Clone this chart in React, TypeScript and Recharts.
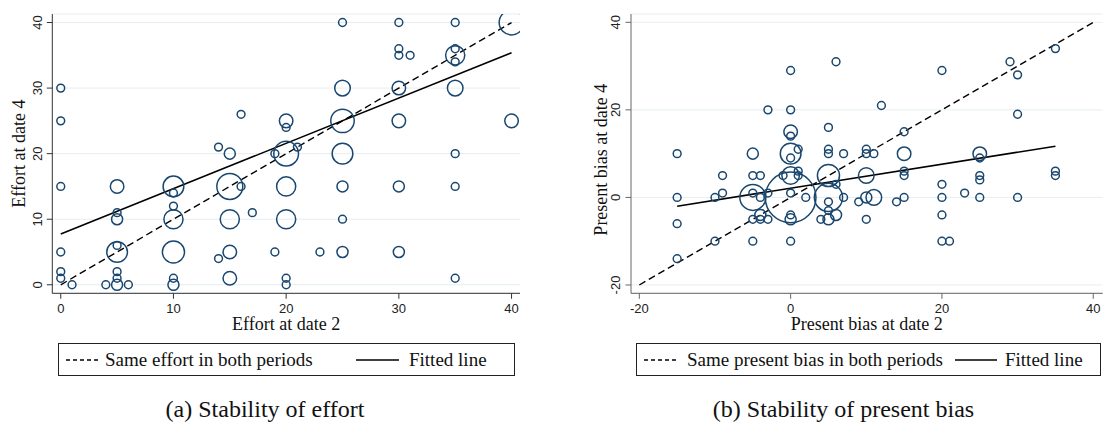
import React from "react";
import { CartesianGrid, ReferenceLine, Scatter, ScatterChart, XAxis, YAxis, ZAxis } from "recharts";

// (a) effort: one entry per distinct (date 2, date 4) pair, count sets the marker area
const effortAt2 = [
  0, 0, 0, 0, 0, 0, 1, 4, 5, 6, 5, 5, 5, 5, 5, 5, 5,
  10, 10, 10, 10, 10, 10, 10,
  14, 14, 15, 15, 15, 15, 15, 16, 16, 17,
  19, 19, 20, 20, 20, 20, 20, 20, 20, 21, 23,
  25, 25, 25, 25, 25, 25, 25,
  30, 30, 30, 30, 30, 30, 30, 31,
  35, 35, 35, 35, 35, 35, 35, 35,
  40, 40,
];
const effortAt4 = [
  30, 25, 15, 5, 2, 1, 0, 0, 0, 0, 1, 2, 5, 6, 10, 11, 15,
  0, 1, 5, 10, 12, 14, 15,
  4, 21, 1, 5, 10, 15, 20, 15, 26, 11,
  5, 20, 0, 1, 10, 15, 20, 24, 25, 21, 5,
  5, 10, 15, 20, 25, 30, 40,
  5, 15, 25, 30, 35, 36, 40, 35,
  1, 15, 20, 30, 34, 35, 36, 40,
  25, 40,
];
const effortCount = [
  1, 1, 1, 1, 1, 1, 1, 1, 2, 1, 1, 1, 7, 1, 2, 1, 3,
  2, 1, 8, 6, 1, 1, 7,
  1, 1, 3, 3, 6, 11, 2, 1, 1, 1,
  1, 1, 1, 1, 6, 6, 10, 1, 3, 1, 1,
  2, 1, 2, 7, 9, 4, 1,
  2, 2, 3, 3, 1, 1, 1, 1,
  1, 1, 1, 4, 1, 6, 1, 1,
  3, 10,
];
const effortFitX = [0, 40];
const effortFitY = [7.75, 35.4];

// (b) present bias
const biasAt2 = [
  -15, -15, -15, -15, -10, -10, -9, -9,
  -5, -5, -4, -5, -5, -4, -3, -5, -4, -5, -4, -3, -3,
  0, 0, 0, 0, -1, 1, 1, 0, 0, 0, 0, 0, 0, 0, 0, 2, 1,
  5, 5, 5, 7, 6, 5, 5, 5, 5, 4, 5, 6, 7, 6,
  10, 10, 11, 9, 10, 10, 10, 11, 12,
  14, 15, 15, 15, 15, 15,
  20, 20, 20, 20, 20, 21, 23, 25, 25, 25, 25, 25,
  29, 30, 30, 30, 35, 35, 35,
];
const biasAt4 = [
  10, 0, -6, -14, 0, -10, 1, 5,
  10, 5, 5, 0, 1, 0, 1, -10, -4, -5, -5, -5, 20,
  -10, 0, 1, 5, 5, 5, 6, 10, 9, 14, 15, 20, 29, -4, -5, 0, 11,
  16, 11, 10, 10, 31, 5, 0, -1, -3, -5, -5, -4, 0, 3,
  5, 0, 0, -1, -5, 10, 11, 10, 21,
  -1, 0, 5, 6, 10, 15,
  29, 3, 0, -4, -10, -10, 1, 0, 4, 5, 9, 10,
  31, 0, 19, 28, 34, 5, 6,
];
const biasCount = [
  1, 1, 1, 1, 1, 1, 1, 1,
  2, 1, 1, 11, 1, 1, 1, 1, 2, 1, 1, 1, 1,
  1, 42, 1, 5, 1, 1, 1, 7, 1, 1, 3, 1, 1, 1, 2, 1, 1,
  1, 1, 1, 1, 1, 8, 13, 1, 1, 1, 2, 2, 1, 1,
  4, 2, 4, 1, 1, 1, 1, 1, 1,
  1, 1, 1, 1, 3, 1,
  1, 1, 1, 1, 1, 1, 1, 1, 1, 1, 1, 3,
  1, 1, 1, 1, 1, 1, 1,
];
const biasFitX = [-15, 35];
const biasFitY = [-2, 11.7];

const effortTicks = [0, 10, 20, 30, 40];
const biasTicks = [-20, 0, 20, 40];

const NAVY = "#1a476f";
const GRID = "#e6eef0";
const serif = "'Liberation Serif', 'Times New Roman', serif";
const sans = "'Liberation Sans', Arial, sans-serif";
const AREA_PER_OBS = 48;

const toPoints = (xs: number[], ys: number[], ns: number[]) =>
  xs.map((x, i) => ({ x, y: ys[i], n: ns[i] }));

function VerticalTick({ x, y, payload }: any) {
  return (
    <text
      x={x}
      y={y}
      transform={`rotate(-90 ${x} ${y})`}
      textAnchor="middle"
      fontFamily={sans}
      fontSize={13}
      fill="#222"
    >
      {payload.value}
    </text>
  );
}

const xTitle = (text: string) => (props: any) => {
  const vb = props.viewBox ?? {};
  return (
    <text x={vb.x + vb.width / 2} y={vb.y + 36.7} textAnchor="middle" fontFamily={serif} fontSize={18} fill="#111">
      {text}
    </text>
  );
};

const yTitle = (text: string, gap: number, shift: number) => (props: any) => {
  const vb = props.viewBox ?? {};
  const x = vb.x + vb.width - gap;
  const y = vb.y + vb.height / 2 + shift;
  return (
    <text x={x} y={y} transform={`rotate(-90 ${x} ${y})`} textAnchor="middle" fontFamily={serif} fontSize={18} fill="#111">
      {text}
    </text>
  );
};

function Panel({
  points,
  fitX,
  fitY,
  diag,
  ticks,
  xDomain,
  yDomain,
  width,
  yAxisWidth,
  right,
  titleGap,
  titleShift,
  xLabel,
  yLabel,
  maxCount,
  axisColor,
}: any) {
  return (
    <ScatterChart width={width} height={340} margin={{ top: 14, right, bottom: 0, left: 0 }}>
      <CartesianGrid vertical={false} stroke={GRID} strokeWidth={1} />
      <XAxis
        type="number"
        dataKey="x"
        domain={xDomain}
        ticks={ticks}
        allowDataOverflow
        height={46.7}
        tickSize={5.5}
        tickMargin={5}
        stroke={axisColor}
        tick={{ fontFamily: sans, fontSize: 13, fill: "#222" }}
        label={xTitle(xLabel)}
      />
      <YAxis
        type="number"
        dataKey="y"
        domain={yDomain}
        ticks={ticks}
        allowDataOverflow
        width={yAxisWidth}
        tickSize={5.5}
        tickMargin={5}
        stroke={axisColor}
        tick={<VerticalTick />}
        label={yTitle(yLabel, titleGap, titleShift)}
      />
      <ZAxis type="number" dataKey="n" domain={[0, maxCount]} range={[0, maxCount * AREA_PER_OBS]} />
      <ReferenceLine
        segment={[
          { x: diag[0], y: diag[0] },
          { x: diag[1], y: diag[1] },
        ]}
        stroke="#000"
        strokeWidth={1.4}
        strokeDasharray="7 4"
      />
      <ReferenceLine
        segment={[
          { x: fitX[0], y: fitY[0] },
          { x: fitX[1], y: fitY[1] },
        ]}
        stroke="#000"
        strokeWidth={1.6}
      />
      <Scatter
        data={points}
        shape="circle"
        fill="none"
        stroke={NAVY}
        strokeWidth={1.5}
        isAnimationActive={false}
      />
    </ScatterChart>
  );
}

export default function App() {
  const effortPoints = toPoints(effortAt2, effortAt4, effortCount);
  const biasPoints = toPoints(biasAt2, biasAt4, biasCount);
  const label: React.CSSProperties = {
    position: "absolute",
    top: 0,
    height: 31,
    lineHeight: "31px",
    fontFamily: serif,
    fontSize: 19,
    color: "#111",
    whiteSpace: "nowrap",
  };
  return (
    <div style={{ position: "absolute", left: 0, top: 0, width: 1107, height: 439, background: "#fff" }}>
      <div style={{ position: "absolute", left: 0, top: 0 }}>
        <Panel
          points={effortPoints}
          fitX={effortFitX}
          fitY={effortFitY}
          diag={[0, 40]}
          ticks={effortTicks}
          xDomain={[-0.75, 40.75]}
          yDomain={[-1.3, 41.3]}
          width={540}
          yAxisWidth={52.3}
          right={20}
          titleGap={27}
          titleShift={0}
          xLabel="Effort at date 2"
          yLabel="Effort at date 4"
          maxCount={12}
          axisColor="#333"
        />
      </div>
      <div style={{ position: "absolute", left: 560, top: 0 }}>
        <Panel
          points={biasPoints}
          fitX={biasFitX}
          fitY={biasFitY}
          diag={[-20, 40]}
          ticks={biasTicks}
          xDomain={[-21.1, 41.25]}
          yDomain={[-21.9, 41.9]}
          width={547}
          yAxisWidth={71}
          right={4.3}
          titleGap={24}
          titleShift={6}
          xLabel="Present bias at date 2"
          yLabel="Present bias at date 4"
          maxCount={50}
          axisColor="#666"
        />
      </div>

      <div style={{ position: "absolute", left: 58, top: 343, width: 455, height: 31, border: "1px solid #222" }}>
        <svg style={{ position: "absolute", left: 7, top: 0 }} width={34} height={31}>
          <line x1={0} y1={16} x2={34} y2={16} stroke="#000" strokeWidth={1.4} strokeDasharray="4 3" />
        </svg>
        <span style={{ ...label, left: 46 }}>Same effort in both periods</span>
        <svg style={{ position: "absolute", left: 297, top: 0 }} width={43} height={31}>
          <line x1={0} y1={16} x2={43} y2={16} stroke="#000" strokeWidth={1.6} />
        </svg>
        <span style={{ ...label, left: 350 }}>Fitted line</span>
      </div>

      <div style={{ position: "absolute", left: 636, top: 343, width: 463, height: 31, border: "1px solid #222" }}>
        <svg style={{ position: "absolute", left: 7, top: 0 }} width={35} height={31}>
          <line x1={0} y1={16} x2={35} y2={16} stroke="#000" strokeWidth={1.4} strokeDasharray="4 3" />
        </svg>
        <span style={{ ...label, left: 50 }}>Same present bias in both periods</span>
        <svg style={{ position: "absolute", left: 318, top: 0 }} width={42} height={31}>
          <line x1={0} y1={16} x2={42} y2={16} stroke="#000" strokeWidth={1.6} />
        </svg>
        <span style={{ ...label, left: 368 }}>Fitted line</span>
      </div>

      <div style={{ position: "absolute", left: 0, width: 530, top: 396, textAlign: "center", fontFamily: serif, fontSize: 24, color: "#111" }}>
        (a) Stability of effort
      </div>
      <div style={{ position: "absolute", left: 580, width: 527, top: 396, textAlign: "center", fontFamily: serif, fontSize: 24, color: "#111" }}>
        (b) Stability of present bias
      </div>
    </div>
  );
}
